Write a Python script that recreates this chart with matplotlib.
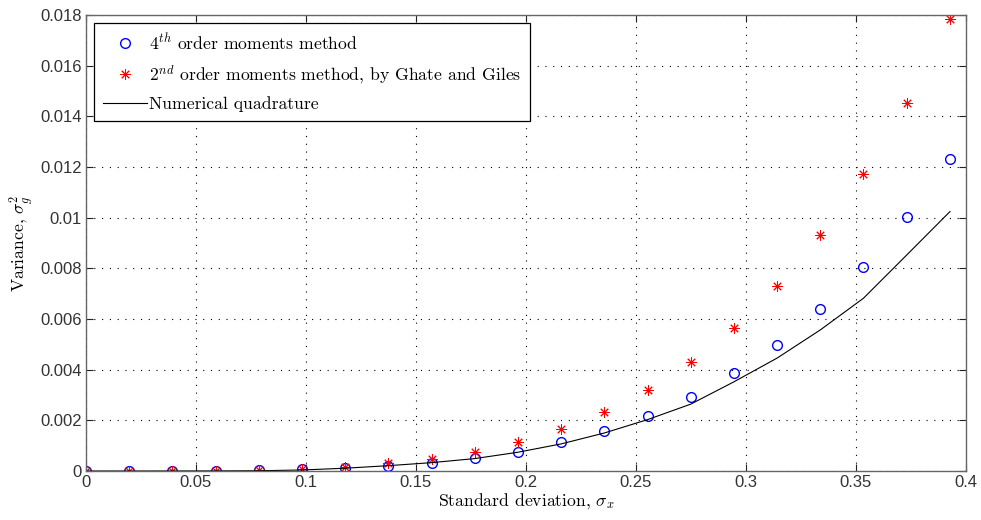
import matplotlib
matplotlib.use("Agg")
import matplotlib.pyplot as plt
from matplotlib.ticker import FixedLocator

sigma_x = [0.0, 0.0196, 0.0393, 0.0589, 0.0785, 0.0982, 0.1178, 0.1374, 0.1571,
           0.1767, 0.1963, 0.2160, 0.2356, 0.2553, 0.2749, 0.2945, 0.3142, 0.3338,
           0.3534, 0.3731, 0.3927]
var_4th = [0.0, 0.0, 0.000002, 0.000008, 0.00002, 0.00006, 0.00012, 0.00021, 0.00031,
           0.00050, 0.00076, 0.00113, 0.00158, 0.00218, 0.00293, 0.00386, 0.00497,
           0.00638, 0.00807, 0.01001, 0.01233]
var_2nd = [0.0, 0.0, 0.000002, 0.00001, 0.00003, 0.00008, 0.00017, 0.00030, 0.00049,
           0.00075, 0.00116, 0.00166, 0.00232, 0.00320, 0.00429, 0.00563, 0.00730,
           0.00932, 0.01172, 0.01451, 0.01784]
var_quad = [0.0, 0.0, 0.000001, 0.000004, 0.00001, 0.00004, 0.00011, 0.00021, 0.00033,
            0.00049, 0.00074, 0.00107, 0.00150, 0.00203, 0.00264, 0.00352, 0.00446,
            0.00557, 0.00682, 0.00853, 0.01024]

xticks = [0, 0.05, 0.1, 0.15, 0.2, 0.25, 0.3, 0.35, 0.4]
xticklabels = ["0", "0.05", "0.1", "0.15", "0.2", "0.25", "0.3", "0.35", "0.4"]
yticks = [0, 0.002, 0.004, 0.006, 0.008, 0.01, 0.012, 0.014, 0.016, 0.018]
yticklabels = ["0", "0.002", "0.004", "0.006", "0.008", "0.01", "0.012", "0.014",
               "0.016", "0.018"]

labels = [r"$4^{th}$ order moments method",
          r"$2^{nd}$ order moments method, by Ghate and Giles",
          "Numerical quadrature"]
xlabel = r"Standard deviation, $\sigma_x$"
ylabel = r"Variance, $\sigma_g^2$"

plt.rcParams["mathtext.fontset"] = "cm"
plt.rcParams["font.family"] = ["cmr10", "DejaVu Serif"]
plt.rcParams["axes.formatter.use_mathtext"] = True

fig = plt.figure(figsize=(9.81, 5.2), dpi=100)
ax = fig.add_axes([86/981, 1-471/520, (966-86)/981, (471-15)/520])

ax.plot(sigma_x, var_4th, linestyle="none", marker="o", markersize=7,
        markerfacecolor="none", markeredgecolor="#0000ff", markeredgewidth=1.0,
        label=labels[0])
ax.plot(sigma_x, var_2nd, linestyle="none", marker=(8, 2, 0), markersize=7.5,
        color="#ff0000", markeredgewidth=0.7, label=labels[1])
ax.plot(sigma_x, var_quad, color="black", linewidth=0.8, label=labels[2])

ax.set_xlim(0, 0.4)
ax.set_ylim(0, 0.018)
ax.xaxis.set_major_locator(FixedLocator(xticks))
ax.yaxis.set_major_locator(FixedLocator(yticks))
ax.set_xticklabels(xticklabels, family="Liberation Sans", fontsize=12, color="#333333")
ax.set_yticklabels(yticklabels, family="Liberation Sans", fontsize=12, color="#333333")
ax.tick_params(direction="in", top=True, right=True, length=5, width=0.8,
               color="#222222", pad=3)
ax.grid(True, linestyle=(0, (1, 6)), color="black", linewidth=0.8)
for s in ax.spines.values():
    s.set_color("#666666")
    s.set_linewidth(1.0)

ax.set_xlabel(xlabel, fontsize=12.7, labelpad=1)
ax.set_ylabel(ylabel, fontsize=12.7, labelpad=3)

leg = ax.legend(loc="upper left", fontsize=12.7, frameon=True, fancybox=False,
                edgecolor="black", framealpha=1.0, borderaxespad=0.45,
                handlelength=2.5, handletextpad=0.1, labelspacing=0.6,
                borderpad=0.5)
leg.get_frame().set_linewidth(0.9)

fig.savefig("out.png", dpi=100)
